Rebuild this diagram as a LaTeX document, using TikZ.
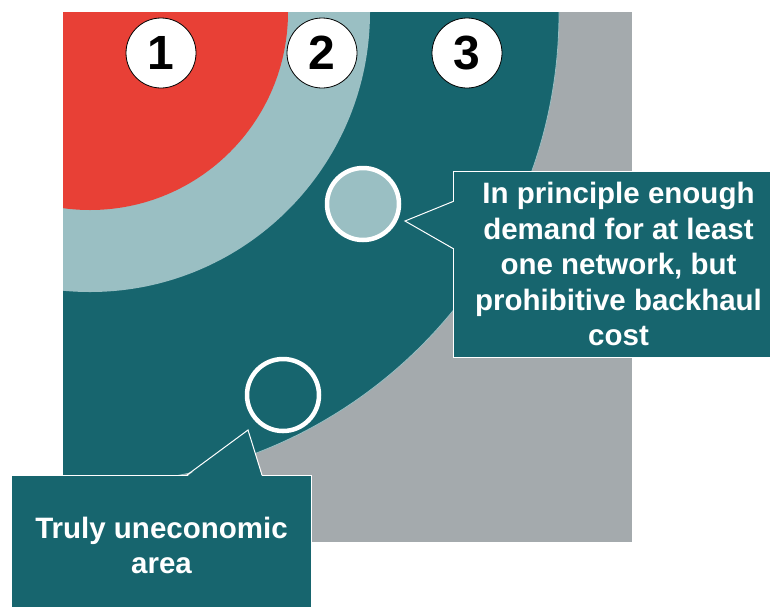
\documentclass[tikz,border=0pt]{standalone}
\usepackage{fontspec}
\setmainfont{Liberation Sans}
\usetikzlibrary{positioning}

\definecolor{hotred}{RGB}{232,64,54}
\definecolor{palet}{RGB}{154,191,195}
\definecolor{deept}{RGB}{23,101,110}
\definecolor{stone}{RGB}{164,170,173}

\begin{document}
\begin{tikzpicture}[x=1pt, y=-1pt]
  \tikzset{
    num/.style={
      circle,
      draw=black,
      fill=white,
      line width=0.8pt,
      minimum size=70pt,
      inner sep=0pt,
      font=\fontsize{48}{48}\selectfont\bfseries},
    spot/.style={
      circle,
      draw=white,
      line width=4.5pt,
      minimum size=72pt,
      inner sep=0pt},
    callbox/.style={
      rectangle,
      anchor=north west,
      fill=deept,
      draw=white,
      line width=1pt,
      align=center,
      text=white,
      font=\fontsize{29.5}{35.5}\selectfont\bfseries}}

  \useasboundingbox (0,0) rectangle (770,606);

  % zones
  \begin{scope}
    \clip (63,12) rectangle (632,542);
    \fill[stone] (63,12) rectangle (632,542);
    \fill[deept] (88,13) circle (471pt);
    \draw[palet, line width=0.8pt] (88,13) circle (471pt);
    \fill[palet] (90,12) circle (280pt);
    \fill[hotred] (90,12) circle (198pt);
  \end{scope}

  \node[num] (n1) at (161,53) {1};
  \node[num] (n2) at (322,53) {2};
  \node[num] (n3) at (467,53) {3};

  \node[spot, fill=palet] (sp1) at (363,204) {};
  \node[spot, fill=deept] (sp2) at (283,395) {};

  % callouts
  \node[callbox, minimum width=330pt, minimum height=186pt] (co1) at (453,170.5)
    {In principle enough\\demand for at least\\one network, but\\prohibitive backhaul\\cost};
  \node[callbox, minimum width=300pt, minimum height=140pt] (co2) at (11,475)
    {Truly uneconomic\\area};

  \coordinate (tip1) at (405,221);
  \coordinate (tip2) at (248,430);

  \fill[deept] ([shift={(1.5pt,-31pt)}]co1.north west) -- (tip1)
    -- ([shift={(1.5pt,-78pt)}]co1.north west) -- cycle;
  \draw[white, line width=1pt] ([yshift=-31pt]co1.north west) -- (tip1)
    -- ([yshift=-78pt]co1.north west);

  \fill[deept] ([shift={(176pt,-1.5pt)}]co2.north west) -- (tip2)
    -- ([shift={(251pt,-1.5pt)}]co2.north west) -- cycle;
  \draw[white, line width=1pt] ([xshift=176pt]co2.north west) -- (tip2)
    -- ([xshift=251pt]co2.north west);

\end{tikzpicture}
\end{document}
